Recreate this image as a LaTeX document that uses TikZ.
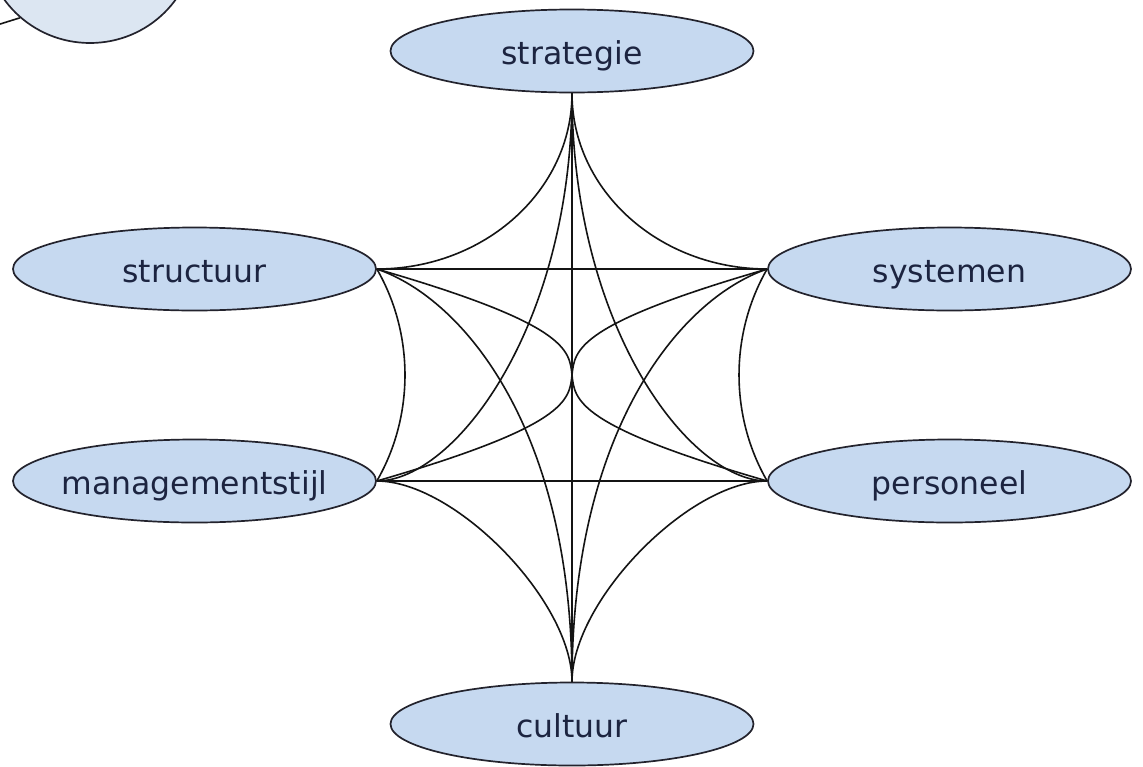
\documentclass[tikz,border=0pt]{standalone}
\usepackage{fontspec}
\setmainfont{DejaVu Sans}
\usetikzlibrary{shapes.geometric}
\definecolor{ellfill}{RGB}{198,217,240}
\definecolor{bubfill}{RGB}{220,230,242}
\definecolor{ellline}{RGB}{35,35,45}
\definecolor{txt}{RGB}{28,36,64}
\definecolor{edgecol}{RGB}{20,20,20}
\tikzset{
  ell/.style={ellipse, draw=ellline, fill=ellfill, line width=1.7pt,
    minimum width=363pt, minimum height=83pt, inner sep=0pt,
    font=\fontsize{31.5pt}{36pt}\selectfont, text=txt,
    text height=27pt, text depth=0pt},
  bub/.style={ellipse, draw=ellline, fill=bubfill, line width=1.7pt,
    minimum width=210pt, minimum height=206pt, inner sep=0pt},
  edge/.style={draw=edgecol, line width=1.6pt}
}
\begin{document}
\begin{tikzpicture}[x=1pt,y=-1pt]
\useasboundingbox (0,0) rectangle (1143,766);
\fill[white] (0,0) rectangle (1143,766);
\begin{scope}
\clip (0,0) rectangle (1143,766);
\node[bub] (bubble) at (90,-60) {};
\coordinate (bl) at (-3,25);
\draw[edge] (bl) -- (bubble.228);
\end{scope}
\path (572,51) coordinate (cs) (194.5,269) coordinate (c1) (949.5,269) coordinate (c2)
      (194.5,481) coordinate (c3) (949.5,481) coordinate (c4) (572,724) coordinate (c5);
\node[ell] (strategie) at (cs) {\makebox[0pt]{strategie}};
\node[ell] (structuur) at (c1) {\makebox[0pt]{structuur}};
\node[ell] (systemen) at (c2) {\makebox[0pt]{systemen}};
\node[ell] (mgmt) at (c3) {\makebox[0pt]{managementstijl}};
\node[ell] (personeel) at (c4) {\makebox[0pt]{personeel}};
\node[ell] (cultuur) at (c5) {\makebox[0pt]{cultuur}};
% straight connectors
\draw[edge] (strategie.south) -- (cultuur.north);
\draw[edge] (structuur.east) -- (systemen.west);
\draw[edge] (mgmt.east) -- (personeel.west);
% from strategie
\draw[edge] (strategie.south) .. controls +(0,97) and +(108,0) .. (structuur.east);
\draw[edge] (strategie.south) .. controls +(0,97) and +(-108,0) .. (systemen.west);
\draw[edge] (strategie.south) .. controls +(0,233) and +(78,0) .. (mgmt.east);
\draw[edge] (strategie.south) .. controls +(0,233) and +(-78,0) .. (personeel.west);
% from cultuur
\draw[edge] (cultuur.north) .. controls +(0,-81) and +(78,0) .. (mgmt.east);
\draw[edge] (cultuur.north) .. controls +(0,-81) and +(-78,0) .. (personeel.west);
\draw[edge] (cultuur.north) .. controls +(0,-250) and +(88,30) .. (structuur.east);
\draw[edge] (cultuur.north) .. controls +(0,-250) and +(-88,30) .. (systemen.west);
% side brackets
\draw[edge] (structuur.east) .. controls +(37.5,65) and +(37.5,-65) .. (mgmt.east);
\draw[edge] (systemen.west) .. controls +(-37.5,65) and +(-37.5,-65) .. (personeel.west);
% S-curves through the centre
\draw[edge] (structuur.east) .. controls +(380,110) and +(-380,-110) .. (personeel.west);
\draw[edge] (mgmt.east) .. controls +(380,-110) and +(-380,110) .. (systemen.west);
\end{tikzpicture}
\end{document}
